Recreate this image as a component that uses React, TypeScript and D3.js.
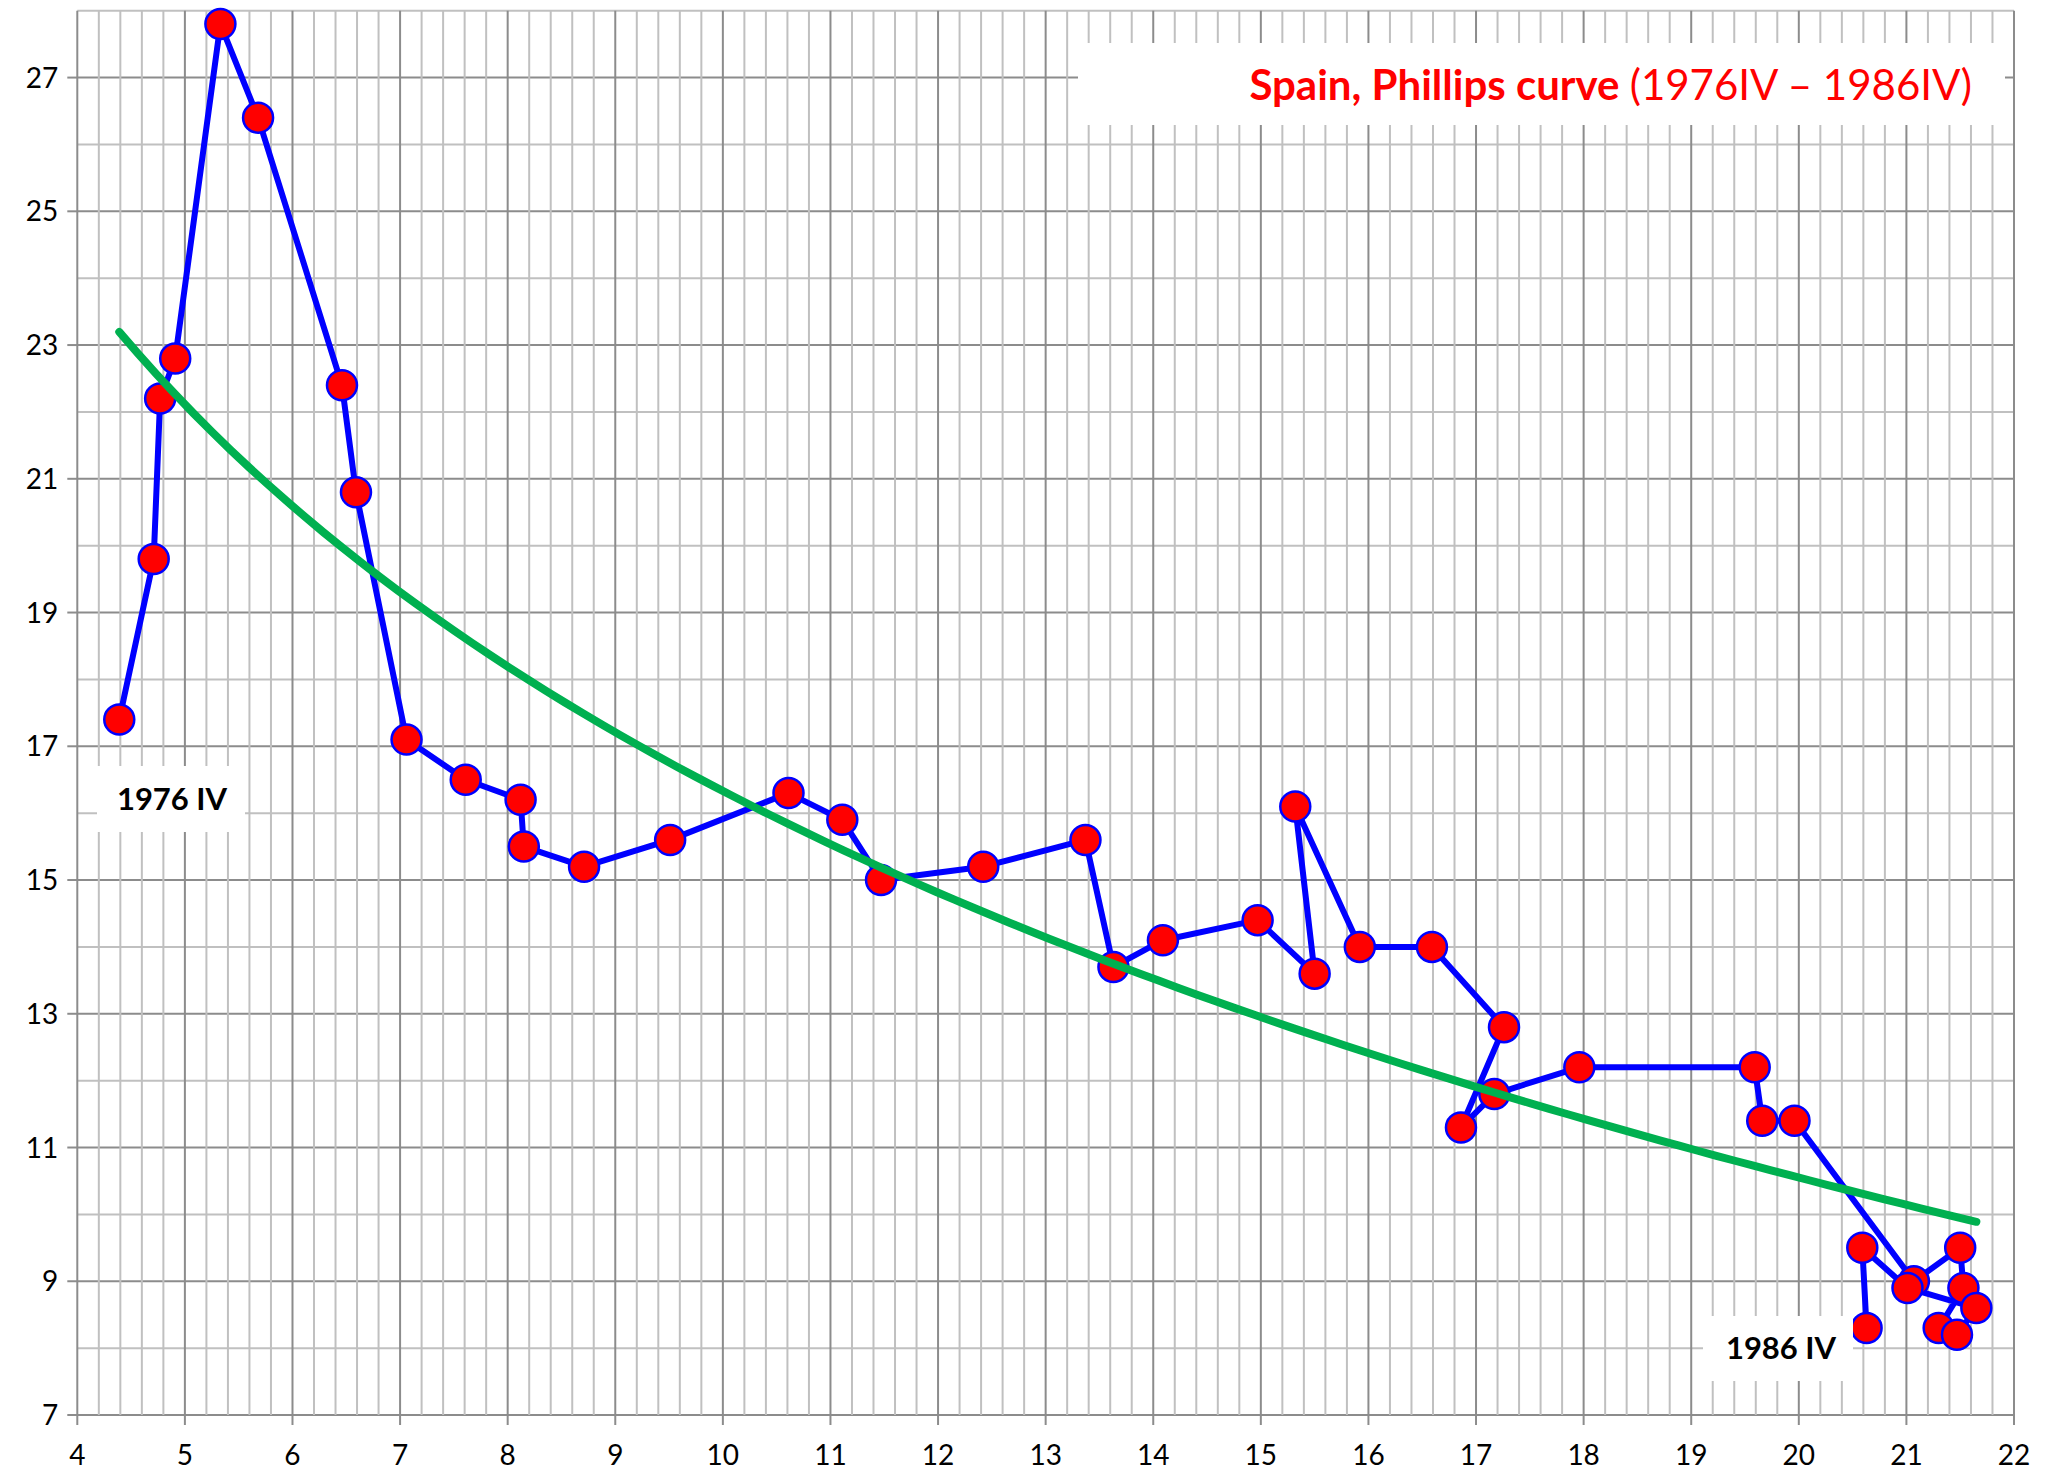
import React, { useEffect } from "react";
import * as d3 from "d3";

// unemployment rate (%), quarterly, 1976IV .. 1986IV
const unemployment = [
  4.39, 4.71, 4.77, 4.91, 5.33, 5.68, 6.46, 6.59, 7.06, 7.61, 8.12, 8.15, 8.71,
  9.51, 10.61, 11.11, 11.47, 12.42, 13.37, 13.63, 14.09, 14.97, 15.5, 15.32,
  15.92, 16.59, 17.26, 16.86, 17.17, 17.96, 19.59, 19.66, 19.96, 21.07, 21.5,
  21.53, 21.3, 21.47, 21.65, 21.01, 20.59, 20.63,
];
// inflation rate (%)
const inflation = [
  17.4, 19.8, 22.2, 22.8, 27.8, 26.4, 22.4, 20.8, 17.1, 16.5, 16.2, 15.5, 15.2,
  15.6, 16.3, 15.9, 15.0, 15.2, 15.6, 13.7, 14.1, 14.4, 13.6, 16.1, 14.0, 14.0,
  12.8, 11.3, 11.8, 12.2, 12.2, 11.4, 11.4, 9.0, 9.5, 8.9, 8.3, 8.2, 8.6, 8.9,
  9.5, 8.3,
];
const xTicks = d3.range(4, 23, 1);
const yTicks = d3.range(7, 28, 2);
const startLabel = "1976 IV";
const endLabel = "1986 IV";

const W = 2055;
const H = 1471;
const margin = { top: 10.7, right: 41, bottom: 56, left: 77.3 };
const font = "Lato, 'Open Sans', sans-serif";

export default function App() {
  useEffect(() => {
    document.body.style.margin = "0";
  }, []);

  const x = d3.scaleLinear().domain([4, 22]).range([margin.left, W - margin.right]);
  const y = d3.scaleLinear().domain([7, 28]).range([H - margin.bottom, margin.top]);

  const pts = unemployment.map((u, i) => [u, inflation[i]] as [number, number]);

  // logarithmic trend line y = a + b ln(x), least squares like Excel
  const lx = unemployment.map(Math.log);
  const mx = d3.mean(lx)!;
  const my = d3.mean(inflation)!;
  const b =
    d3.sum(lx, (v, i) => (v - mx) * (inflation[i] - my)) /
    d3.sum(lx, (v) => (v - mx) * (v - mx));
  const a = my - b * mx;
  const [x0, x1] = d3.extent(unemployment) as [number, number];
  const trendX = d3.range(0, 101).map((k) => x0 + ((x1 - x0) * k) / 100);

  const line = d3
    .line<[number, number]>()
    .x((d) => x(d[0]))
    .y((d) => y(d[1]));
  const trendLine = d3
    .line<number>()
    .x((d) => x(d))
    .y((d) => y(a + b * Math.log(d)));

  const minorX = d3.range(4, 22.001, 0.2);
  const minorY = d3.range(7, 28.001, 1);
  const bottom = y(7);

  return (
    <svg width={W} height={H} style={{ display: "block", background: "#fff" }}>
      {/* grid */}
      <g>
        {minorY.map((v) => (
          <line
            key={"gy" + v}
            x1={x(4)}
            x2={x(22)}
            y1={y(v)}
            y2={y(v)}
            stroke={Math.round(v) % 2 === 1 ? "#8c8c8c" : "#c0c0c0"}
            strokeWidth={2}
          />
        ))}
        {minorX.map((v, i) => (
          <line
            key={"gx" + i}
            x1={x(v)}
            x2={x(v)}
            y1={y(28)}
            y2={bottom}
            stroke={i % 5 === 0 ? "#8c8c8c" : "#c0c0c0"}
            strokeWidth={2}
          />
        ))}
      </g>
      {/* axes */}
      <g fontFamily={font} fontSize={28} fill="#000">
        {yTicks.map((v) => (
          <g key={"ty" + v}>
            <line x1={x(4) - 10} x2={x(4)} y1={y(v)} y2={y(v)} stroke="#8c8c8c" strokeWidth={2} />
            <text x={x(4) - 19} y={y(v)} dy="0.36em" textAnchor="end">
              {v}
            </text>
          </g>
        ))}
        {xTicks.map((v) => (
          <g key={"tx" + v}>
            <line x1={x(v)} x2={x(v)} y1={bottom} y2={bottom + 10} stroke="#8c8c8c" strokeWidth={2} />
            <text x={x(v)} y={bottom + 40} dy="0.36em" textAnchor="middle">
              {v}
            </text>
          </g>
        ))}
      </g>
      {/* series */}
      <path d={line(pts) ?? ""} fill="none" stroke="#0000ff" strokeWidth={6} strokeLinejoin="round" />
      {pts.map((p, i) => (
        <circle key={"p" + i} cx={x(p[0])} cy={y(p[1])} r={15} fill="#ff0000" stroke="#0000ff" strokeWidth={2.5} />
      ))}
      <path
        d={trendLine(trendX) ?? ""}
        fill="none"
        stroke="#00b050"
        strokeWidth={8}
        strokeLinecap="round"
      />
      {/* labels */}
      <g fontFamily={font} fontWeight="bold" fontSize={31} fill="#000">
        <rect x={97} y={766} width={148} height={66} fill="#fff" />
        <text x={172} y={799} dy="0.36em" textAnchor="middle">
          {startLabel}
        </text>
        <rect x={1703} y={1316} width={150} height={65} fill="#fff" />
        <text x={1781} y={1348} dy="0.36em" textAnchor="middle">
          {endLabel}
        </text>
      </g>
      <rect x={1078} y={43} width={927} height={82} fill="#fff" />
      <text x={1972} y={85} dy="0.36em" textAnchor="end" fontFamily={font} fontSize={42} fill="#ff0000">
        <tspan fontWeight="bold">Spain, Phillips curve </tspan>
        <tspan>(1976IV – 1986IV)</tspan>
      </text>
    </svg>
  );
}
